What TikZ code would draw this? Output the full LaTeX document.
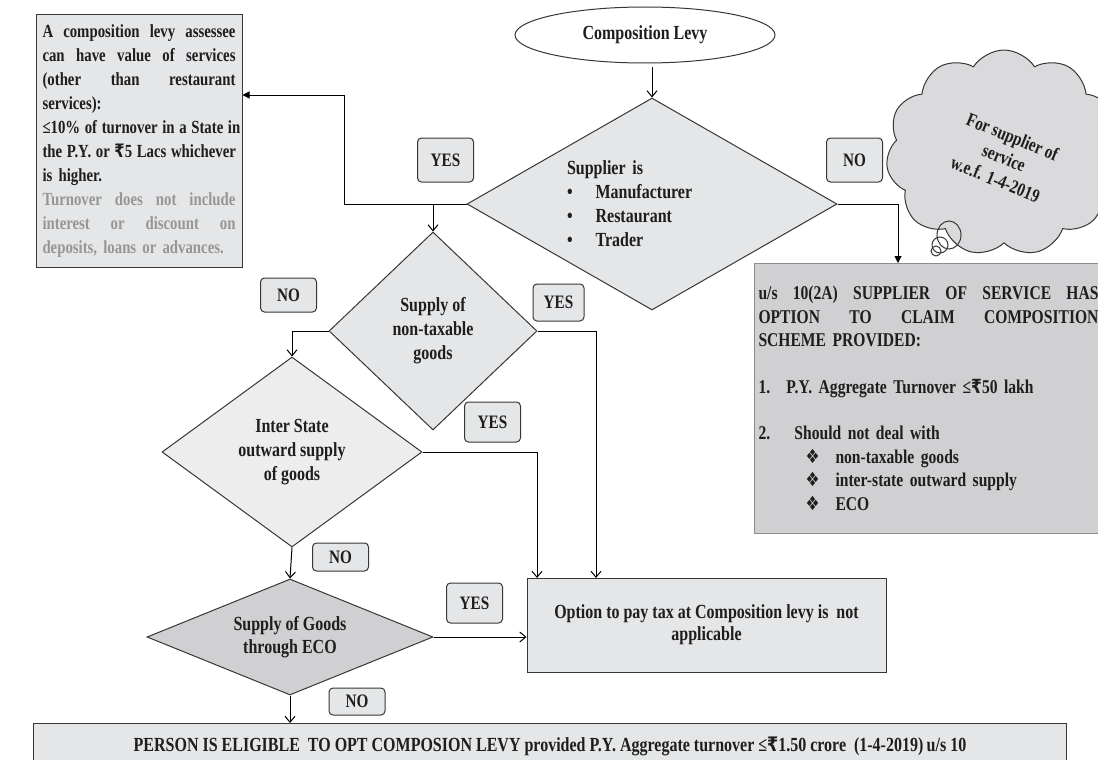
\documentclass[tikz,border=0pt]{standalone}
\usepackage{fontspec}
\setmainfont{Liberation Serif}[FakeStretch=0.8]
\newfontfamily\symfont{DejaVu Sans}[FakeStretch=0.8]
\usetikzlibrary{shapes.geometric,shapes.symbols,arrows.meta}
\definecolor{ink}{RGB}{30,30,30}
\definecolor{edge}{RGB}{55,55,55}
\definecolor{paper}{RGB}{229,230,232}
\definecolor{pale}{RGB}{237,237,238}
\definecolor{mid}{RGB}{218,218,220}
\definecolor{dark}{RGB}{208,208,210}
\definecolor{faded}{RGB}{150,150,150}
\definecolor{rim}{RGB}{140,140,140}
\newcommand{\rs}{{\symfont ₹}}
\newcommand{\dmd}{{\symfont ❖}}
\newcommand{\jl}[1]{\makebox[\hsize][s]{\spaceskip=.25em plus 1fil\relax #1}}

\begin{document}
\begin{tikzpicture}[x=1pt, y=-1pt, line width=1pt,
  every node/.style={font=\fontsize{20}{24}\selectfont\bfseries, text=ink},
  box/.style={draw=edge, fill=paper, inner sep=0pt},
  dia/.style={diamond, draw=edge, fill=paper, inner sep=0pt},
  tag/.style={draw=edge, fill=paper, rounded corners=4pt, inner sep=0pt,
    minimum width=56, font=\fontsize{19}{22}\selectfont\bfseries},
  conn/.style={-{Straight Barb[length=6pt, width=10pt]}},
  tri/.style={-{Triangle[length=7pt, width=7pt]}}
]
\fill[white] (0,0) rectangle (1098,760);
\useasboundingbox (0,0) rectangle (1098,760);

% start and first question
\node[draw=edge, ellipse, fill=white, minimum width=260, minimum height=56, inner sep=0pt] (levy) at (645,35) {Composition Levy};
\node[dia, aspect=1.73, minimum width=370, minimum height=212, text width=170, align=left] (sup) at (652,204)
  {Supplier is\\
   \textbullet\hspace{23pt}Manufacturer\\
   \textbullet\hspace{23pt}Restaurant\\
   \textbullet\hspace{23pt}Trader};

% note on services
\node[box, minimum width=206, minimum height=252, text width=193, align=left,
  font=\fontsize{18.5}{24}\selectfont\bfseries] (note) at (139,141)
  {\jl{A composition levy assessee}\\
   \jl{can have value of services}\\
   \jl{(other than restaurant}\\
   services):\\
   \jl{≤10\% of turnover in a State in}\\
   \jl{the P.Y. or \rs5 Lacs whichever}\\
   is higher.\\
   \textcolor{faded}{\jl{Turnover does not include}}\\
   \textcolor{faded}{\jl{interest or discount on}}\\
   \textcolor{faded}{deposits, loans or advances.}};

% supplier of service
\node[box, fill=dark, draw=rim, anchor=north west, minimum width=348, minimum height=270,
  text width=340, align=left, font=\fontsize{19.5}{23.5}\selectfont\bfseries] (svc) at (754,263)
  {\jl{u/s 10(2A) SUPPLIER OF SERVICE HAS}\\
   \jl{OPTION TO CLAIM COMPOSITION}\\
   SCHEME PROVIDED:\\[23pt]
   \makebox[28pt][l]{1.}P.Y. Aggregate Turnover ≤\rs50 lakh\\[23pt]
   \makebox[36pt][l]{2.}Should not deal with\\
   \hspace*{47pt}\makebox[30pt][l]{\dmd}non-taxable goods\\
   \hspace*{47pt}\makebox[30pt][l]{\dmd}inter-state outward supply\\
   \hspace*{47pt}\makebox[30pt][l]{\dmd}ECO};

% thought cloud
\node[cloud, cloud puffs=11, cloud puff arc=115, aspect=1.15, draw=edge, fill=mid,
  minimum width=236, minimum height=206, inner sep=0pt] (cloud) at (1004,153) {};
\node[rotate=-22, align=center, font=\fontsize{19}{23}\selectfont\bfseries] (cloudtxt) at (1004,158)
  {For supplier of\\service\\w.e.f. 1-4-2019};
\draw[edge] (949,235) ellipse [x radius=12, y radius=14];
\draw[edge] (940,245) circle [radius=8];
\draw[edge] (936,251) circle [radius=5];

% goods questions
\node[dia, aspect=1.05, minimum width=208, minimum height=198, align=center] (ntg) at (433,331)
  {Supply of\\non-taxable\\goods};
\node[dia, fill=pale, aspect=1.37, minimum width=260, minimum height=190, align=center] (isg) at (292,452)
  {Inter State\\outward supply\\of goods};
\node[dia, fill=dark, aspect=2.47, minimum width=286, minimum height=116, align=center,
  font=\fontsize{20}{23}\selectfont\bfseries] (eco) at (290,637)
  {Supply of Goods\\through ECO};

% results
\node[box, minimum width=359, minimum height=94, align=center,
  font=\fontsize{20}{22}\selectfont\bfseries] (opt) at (706.5,625)
  {Option to pay tax at Composition levy is\ \ not\\applicable};
\node[box, anchor=north west, minimum width=1033, text height=24, text depth=40,
  inner ysep=4pt] (elig) at (33,723)
  {PERSON IS ELIGIBLE\ \ TO OPT COMPOSION LEVY provided P.Y. Aggregate turnover ≤\rs1.50 crore\ \ (1-4-2019)\,u/s 10};

% answer tags
\node[tag, minimum height=44] (yesA) at (445.5,160) {YES};
\node[tag, minimum height=44] (noA) at (854.5,160) {NO};
\node[tag, minimum height=34] (noB) at (288.5,295) {NO};
\node[tag, minimum width=51, minimum height=37] (yesB) at (558.5,302.5) {YES};
\node[tag, minimum height=40] (yesC) at (492.5,422) {YES};
\node[tag, minimum height=28] (noC) at (340.5,557) {NO};
\node[tag, minimum height=40] (yesD) at (474.5,603) {YES};
\node[tag, minimum height=27] (noD) at (357,701.5) {NO};

\coordinate (bendL) at (344,95);
\coordinate (svcIn) at (898,263);
\coordinate (optA) at (537,578);
\coordinate (optB) at (596,578);

% connectors
\draw[conn] (levy.south -| sup.north) ++(0,4) -- (sup.north);
\draw[tri] (sup.west) -| (bendL) -- (bendL -| note.east);
\draw[conn] (sup.west -| ntg.north) -- (ntg.north);
\draw[tri] (sup.east) -| (svcIn);
\draw[conn] (ntg.west) -| (isg.north);
\draw[conn] (ntg.east) -| (optB);
\draw[conn] (isg.east) -| (optA);
\draw[conn] (isg.south) -- (eco.north);
\draw[conn] (eco.east) -- (eco.east -| opt.west);
\draw[conn] (eco.south) -- (eco.south |- elig.north);
\end{tikzpicture}
\end{document}
